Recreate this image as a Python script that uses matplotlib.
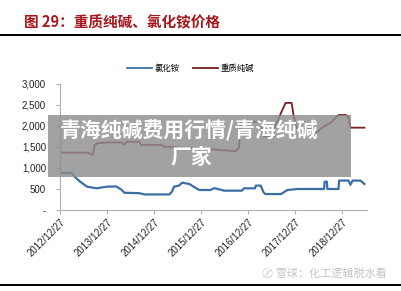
import pandas as pd
import matplotlib
matplotlib.use("Agg")
import matplotlib.pyplot as plt
from matplotlib.ticker import FuncFormatter
from matplotlib.patches import Rectangle
from matplotlib.lines import Line2D

plt.rcParams["font.family"] = ["Noto Sans CJK SC", "DejaVu Sans"]

# ============================================
# DATA — 重质纯碱 / 氯化铵 价格 (元/吨)
# ============================================
nh4cl_dates = ["2012-12-27", "2013-03-30", "2013-04-20", "2013-06-01", "2013-07-25",
               "2013-10-10", "2013-12-25", "2014-03-10", "2014-04-20", "2014-05-12",
               "2014-09-05", "2014-10-15", "2015-04-25", "2015-05-15", "2015-06-01",
               "2015-07-10", "2015-08-03", "2015-09-28", "2015-11-03", "2015-12-13",
               "2016-03-10", "2016-04-10", "2016-06-25", "2016-11-10", "2016-11-25",
               "2017-02-20", "2017-02-25", "2017-04-05", "2017-04-27", "2017-05-10",
               "2017-09-10", "2017-10-30", "2018-01-20", "2018-08-10", "2018-08-15",
               "2018-09-01", "2018-09-05", "2018-12-01", "2018-12-05", "2019-02-16",
               "2019-03-03", "2019-03-20", "2019-05-20", "2019-06-20"]
nh4cl_vals = [880, 880, 790, 675, 555,
              516, 555, 560, 480, 410,
              400, 370, 370, 430, 555,
              580, 650, 620, 550, 476,
              476, 520, 460, 460, 516,
              516, 580, 580, 420, 380,
              380, 476, 500, 500, 675,
              675, 500, 500, 700, 700,
              600, 700, 700, 620]

soda_dates = ["2012-12-27", "2013-08-01", "2013-09-08", "2013-09-23", "2013-10-15",
              "2014-01-18", "2014-04-20", "2014-05-12", "2014-05-30", "2014-09-05",
              "2014-09-15", "2015-03-01", "2015-03-10", "2015-04-25", "2015-09-05",
              "2015-12-13", "2016-05-14", "2016-09-23", "2016-10-18", "2016-11-02",
              "2017-01-03", "2017-04-05", "2017-04-27", "2017-06-20", "2017-08-10",
              "2017-10-15", "2017-12-01", "2017-12-16", "2018-01-07", "2018-05-18",
              "2018-06-10", "2018-07-20", "2018-09-28", "2018-11-30", "2019-01-30",
              "2019-02-16", "2019-03-03", "2019-06-20"]
soda_vals = [1365, 1365, 1310, 1550, 1590,
             1610, 1610, 1550, 1625, 1625,
             1550, 1550, 1510, 1500, 1480,
             1480, 1430, 1400, 1480, 2100,
             2100, 2100, 1750, 1750, 2100,
             2550, 2550, 2260, 1950, 1950,
             1830, 1950, 2070, 2260, 2260,
             2200, 1960, 1960]

x_ticks = ["2012-12-27", "2013-12-27", "2014-12-27", "2015-12-27",
           "2016-12-27", "2017-12-27", "2018-12-27"]
y_ticks = [0, 500, 1000, 1500, 2000, 2500, 3000]

# ============================================
# FIGURE
# ============================================
fig = plt.figure(figsize=(4.01, 2.91), dpi=100)
ax = fig.add_axes([0.1496, 0.2784, 0.7656, 0.4330])

ax.plot(pd.to_datetime(nh4cl_dates), nh4cl_vals, color="#3c6ea6", linewidth=1.6)
ax.plot(pd.to_datetime(soda_dates), soda_vals, color="#7a1f22", linewidth=1.3)

ax.set_ylim(0, 3000)
ax.set_xlim(pd.Timestamp("2012-12-27"), pd.Timestamp("2019-07-10"))
ax.set_yticks(y_ticks)
ax.yaxis.set_major_formatter(FuncFormatter(lambda v, p: "-" if v == 0 else f"{int(v):,}"))
ax.set_xticks(pd.to_datetime(x_ticks))
ax.set_xticklabels([d.replace("-", "/") for d in x_ticks], rotation=45, ha="right",
                   rotation_mode="anchor", fontsize=7, family="Liberation Sans")
for lab in ax.get_yticklabels():
    lab.set_fontsize(7)
    lab.set_family("Liberation Sans")

ax.spines["top"].set_visible(False)
ax.spines["right"].set_visible(False)
ax.spines["left"].set_color("#b0b0b0")
ax.spines["bottom"].set_color("#b0b0b0")
ax.tick_params(axis="both", colors="#b0b0b0", labelcolor="#222222", length=3, width=0.8, pad=2)
ax.tick_params(axis="y", pad=7)

# legend
leg_handles = [Line2D([], [], color="#3c6ea6", linewidth=1.3),
               Line2D([], [], color="#7a1f22", linewidth=1.3)]
fig.legend(leg_handles, ["氯化铵", "重质纯碱"], loc="center", bbox_to_anchor=(0.475, 1 - 68 / 291),
           ncol=2, frameon=False, fontsize=6, handlelength=3.0, handletextpad=0.3,
           columnspacing=1.6)

# title and rules
fig.text(24 / 401, 1 - 22 / 291, "图 29：重质纯碱、氯化铵价格", color="#a8161c",
         fontsize=10.5, fontweight="bold", va="center", ha="left")
fig.add_artist(Line2D([0, 1], [1 - 35 / 291, 1 - 35 / 291], color="black", linewidth=1.4))
fig.add_artist(Line2D([0, 1], [1 - 285 / 291, 1 - 285 / 291], color="black", linewidth=1.4))

# overlay banner
fig.add_artist(Rectangle((48 / 401, 1 - 177 / 291), 303 / 401, 62 / 291,
                         transform=fig.transFigure, facecolor="#8e8e8e", alpha=0.82,
                         edgecolor="none", zorder=5))
fig.text(189 / 401, 1 - 131 / 291, "青海纯碱费用行情/青海纯碱", color="white",
         fontsize=15, fontweight="bold", ha="center", va="center", zorder=6)
fig.text(191 / 401, 1 - 157 / 291, "厂家", color="white",
         fontsize=15, fontweight="bold", ha="center", va="center", zorder=6)

# watermark
fig.text(262 / 401, 1 - 274 / 291, "〄 雪球：化工逻辑脱水看", color="#c4c4c4",
         fontsize=8, ha="left", va="center")

plt.savefig("out.png", dpi=100)
